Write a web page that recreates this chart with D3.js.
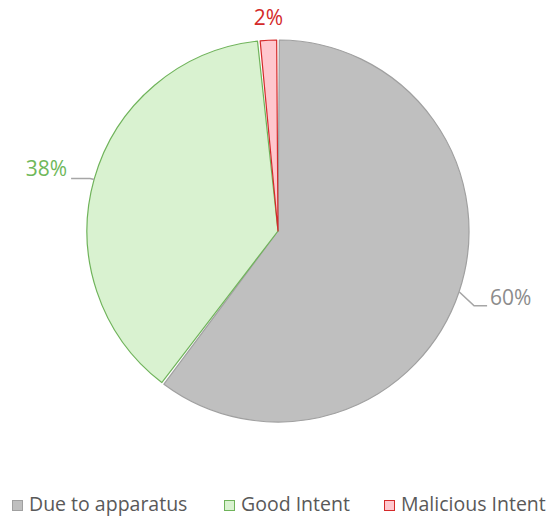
<!DOCTYPE html>
<html><head><meta charset="utf-8">
<script src="https://cdn.jsdelivr.net/npm/d3@7"></script>
<style>body{margin:0;background:#fff;} svg{display:block;}</style>
</head><body>
<svg id="c" width="557" height="525"></svg>
<script>
const categories = ["Due to apparatus", "Good Intent", "Malicious Intent"];
const values = [60.3, 38.1, 1.6];
const labels = ["60%", "38%", "2%"];
const fills = ["#bfbfbf", "#d9f2d0", "#ffc7ce"];
const strokes = ["#a0a0a0", "#6fb35a", "#d42a2a"];
const labelColors = ["#8c8c8c", "#6fb85a", "#d42a2a"];

const svg = d3.select("#c");
const cx = 278, cy = 231, r = 191;
const g = svg.append("g").attr("transform", `translate(${cx},${cy})`);
const data = categories.map((c, i) => ({c, v: values[i], i}));
const pie = d3.pie().value(d => d.v).sort(null);
const arcs = pie(data);
const arc = d3.arc().innerRadius(0).outerRadius(r).padAngle(0.014).padRadius(r);
g.selectAll("path").data(arcs).join("path")
  .attr("d", arc)
  .attr("fill", d => fills[d.data.i])
  .attr("stroke", d => strokes[d.data.i])
  .attr("stroke-width", 1.2)
  .attr("stroke-linejoin", "round");

// labels
const font = "'Open Sans', sans-serif";
const fs = 21;
function polar(a, rr){ return [Math.sin(a)*rr, -Math.cos(a)*rr]; }
arcs.forEach(d => {
  const i = d.data.i;
  const mid = (d.startAngle + d.endAngle) / 2;
  if (i === 0) {
    const p0 = polar(mid, r);
    const p1 = [p0[0] + 15, p0[1] + 14];
    const p2 = [p1[0] + 13, p1[1]];
    g.append("polyline").attr("points", [p0, p1, p2].map(p => p.join(",")).join(" "))
      .attr("fill", "none").attr("stroke", "#a6a6a6").attr("stroke-width", 1.6);
    g.append("text").attr("x", p2[0] + 3).attr("y", p2[1] - 6)
      .attr("dominant-baseline", "middle").attr("font-family", font).attr("font-size", fs)
      .attr("fill", labelColors[i]).text(labels[i]);
  } else if (i === 1) {
    const p0 = polar(mid, r);
    const p1 = [p0[0] - 4, p0[1] - 1];
    const p2 = [p1[0] - 19, p1[1]];
    g.append("polyline").attr("points", [p0, p1, p2].map(p => p.join(",")).join(" "))
      .attr("fill", "none").attr("stroke", "#a6a6a6").attr("stroke-width", 1.6);
    g.append("text").attr("x", p2[0] - 4).attr("y", p2[1] - 8)
      .attr("text-anchor", "end").attr("dominant-baseline", "middle").attr("font-family", font).attr("font-size", fs)
      .attr("fill", labelColors[i]).text(labels[i]);
  } else {
    const p0 = polar(mid, r);
    g.append("text").attr("x", p0[0]).attr("y", p0[1] - 21)
      .attr("text-anchor", "middle").attr("dominant-baseline", "middle").attr("font-family", font).attr("font-size", fs)
      .attr("fill", labelColors[i]).text(labels[i]);
  }
});

// legend
const legendX = [12, 224, 384];
const lg = svg.append("g").attr("transform", "translate(0,506)");
categories.forEach((c, i) => {
  lg.append("rect").attr("x", legendX[i] + 0.5).attr("y", -5.5).attr("width", 10).attr("height", 10)
    .attr("fill", fills[i]).attr("stroke", strokes[i]).attr("stroke-width", 1);
  lg.append("text").attr("x", legendX[i] + 17).attr("y", 0).attr("dominant-baseline", "middle")
    .attr("font-family", font).attr("font-size", 19.5).attr("fill", "#595959").text(c);
});
</script>
</body></html>
